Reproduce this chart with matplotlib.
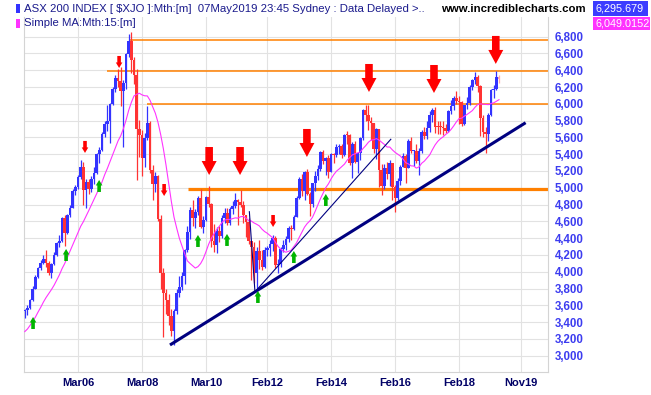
import numpy as np
import matplotlib.pyplot as plt
import matplotlib.transforms as mtransforms
from matplotlib.patches import Polygon, Rectangle

# ASX 200 monthly bars, Jul 2004 .. May 2019 (open = previous close)
ma_seed = [3040, 3110, 3000, 3080, 3180, 3140, 3260, 3230, 3300, 3290,
           3380, 3420, 3430, 3420, 3530]  # Apr 2003 .. Jun 2004, for the MA

closes = [
    3540, 3571, 3665, 3800, 3934, 4050,
    4107, 4157, 4110, 3980, 4098, 4203, 4341, 4370, 4641, 4463, 4678, 4763,
    4962, 5004, 5123, 5242, 4976, 5074, 4983, 5103, 5180, 5407, 5448, 5644,
    5762, 5797, 5995, 6181, 6304, 6274, 6153, 6248, 6589, 6754, 6517, 6340,
    5697, 5632, 5355, 5598, 5773, 5215, 5050, 5135, 4631, 3983, 3744, 3659,
    3478, 3296, 3532, 3745, 3818, 3948, 4255, 4468, 4741, 4645, 4715, 4883,
    4534, 4617, 4893, 4807, 4367, 4324, 4484, 4420, 4636, 4695, 4584, 4745,
    4781, 4856, 4829, 4790, 4673, 4596, 4362, 4296, 3985, 4242, 4134, 4057,
    4257, 4283, 4335, 4397, 4075, 4095, 4268, 4317, 4387, 4517, 4506, 4649,
    4879, 5104, 4967, 5191, 4926, 4803, 5052, 5135, 5218, 5425, 5321, 5352,
    5190, 5404, 5395, 5489, 5492, 5396, 5633, 5625, 5292, 5526, 5313, 5411,
    5588, 5929, 5861, 5790, 5777, 5459, 5699, 5207, 5021, 5239, 5167, 5296,
    5005, 4880, 5082, 5252, 5378, 5233, 5562, 5433, 5436, 5317, 5440, 5666,
    5621, 5712, 5864, 5924, 5725, 5721, 5720, 5715, 5682, 5909, 5970, 6066,
    6037, 6016, 5759, 5982, 6012, 6195, 6281, 6320, 6208, 5830, 5667, 5646,
    5865, 6169, 6181, 6325, 6295.679,
]
highs = [
    3560, 3600, 3680, 3830, 3960, 4060,
    4140, 4200, 4260, 4130, 4110, 4230, 4360, 4440, 4650, 4680, 4690, 4790,
    4990, 5030, 5150, 5330, 5310, 5100, 5110, 5140, 5250, 5420, 5480, 5660,
    5800, 5980, 6010, 6200, 6340, 6410, 6440, 6280, 6600, 6830, 6851, 6560,
    6420, 5810, 5690, 5650, 5970, 5790, 5270, 5190, 5150, 4680, 4040, 3790,
    3740, 3560, 3560, 3800, 3950, 4000, 4270, 4540, 4770, 4850, 4750, 4900,
    4980, 4660, 4900, 5020, 4820, 4570, 4530, 4550, 4680, 4760, 4760, 4770,
    4840, 4940, 4870, 4970, 4840, 4680, 4640, 4370, 4360, 4300, 4380, 4260,
    4290, 4310, 4380, 4440, 4420, 4150, 4290, 4380, 4420, 4540, 4560, 4670,
    4900, 5130, 5160, 5200, 5220, 4950, 5060, 5200, 5270, 5440, 5450, 5370,
    5390, 5420, 5420, 5520, 5520, 5520, 5640, 5680, 5640, 5540, 5560, 5420,
    5600, 5940, 5990, 5990, 5840, 5770, 5710, 5700, 5280, 5280, 5310, 5330,
    5280, 5030, 5120, 5270, 5410, 5400, 5580, 5610, 5450, 5520, 5470, 5690,
    5720, 5800, 5910, 5950, 5960, 5800, 5800, 5790, 5760, 5930, 6050, 6090,
    6150, 6090, 6030, 5990, 6080, 6230, 6300, 6374, 6340, 6220, 5870, 5720,
    5890, 6180, 6220, 6390, 6340,
]
lows = [
    3450, 3480, 3560, 3650, 3790, 3920,
    4020, 4090, 4060, 3960, 3920, 4080, 4190, 4300, 4360, 4310, 4450, 4650,
    4760, 4920, 4980, 5100, 4790, 4760, 4930, 4950, 5050, 5170, 5300, 5440,
    5600, 5680, 5530, 5990, 6140, 6200, 5970, 5490, 6180, 6560, 6370, 6240,
    5090, 5370, 5140, 5250, 5570, 5180, 4850, 4950, 4600, 3800, 3220, 3500,
    3360, 3240, 3130, 3500, 3700, 3780, 3860, 4230, 4390, 4550, 4520, 4670,
    4520, 4460, 4610, 4770, 4290, 4240, 4220, 4360, 4400, 4580, 4560, 4560,
    4690, 4760, 4560, 4770, 4580, 4410, 4330, 3900, 3870, 3760, 4030, 4020,
    4040, 4190, 4190, 4250, 4040, 3980, 4060, 4230, 4260, 4350, 4380, 4500,
    4650, 4870, 4900, 4860, 4910, 4660, 4770, 4960, 5090, 5200, 5280, 5150,
    5120, 5190, 5300, 5370, 5400, 5360, 5380, 5520, 5270, 5120, 5290, 5180,
    5330, 5570, 5800, 5690, 5570, 5420, 5340, 5010, 4920, 4980, 5110, 5020,
    4850, 4710, 4860, 5030, 5250, 5060, 5230, 5420, 5260, 5290, 5150, 5420,
    5580, 5580, 5670, 5780, 5650, 5640, 5640, 5630, 5650, 5660, 5880, 5930,
    6000, 5760, 5730, 5750, 5940, 5980, 6170, 6240, 6140, 5620, 5600, 5410,
    5560, 5850, 6070, 6160, 6250,
]
opens = [ma_seed[-1]] + closes[:-1]

tick_pos = [20, 44, 68, 91, 115, 139, 163, 186.3]
tick_lab = ["Mar06", "Mar08", "Mar10", "Feb12", "Feb14", "Feb16", "Feb18", "Nov19"]
price_ticks = list(range(3000, 6801, 200))

# hand-drawn annotations: (month index, price)
res_levels = [6757, 6385, 5995, 4980]
res_start = [39.2, 30.9, 45.9, 61.3]
res_width = [1.1, 1.1, 1.1, 2.3]
trend_thick = ([54.5, 188.0], [3128, 5775])
trend_thin = ([84.3, 86.4, 137.4], [4715, 3760, 5578])
big_down = [(69.2, 5152), (80.8, 5152), (105.9, 5367), (129.2, 6141),
            (153.6, 6129), (176.8, 6475)]
small_down = [(22.6, 5415), (35.4, 6427), (52.3, 4902), (93.2, 4533)]
small_up = [(3.1, 3461), (15.5, 4271), (27.9, 5093), (65.0, 4438),
            (75.9, 4450), (87.5, 3771), (101.0, 4247), (113.0, 4926)]

W, H = 651, 395
plt.rcParams['font.family'] = ['Liberation Sans', 'DejaVu Sans']
fig = plt.figure(figsize=(W / 100, H / 100), dpi=100)
ax = fig.add_axes([24 / W, 23 / H, 524 / W, 355 / H])

n = len(closes)
x = np.arange(n)
o = np.array(opens, float)
c = np.array(closes, float)
up = c >= o
cols = np.where(up, "#3333ff", "#ff3333").astype(object)
cols[-1] = "#ffaaaa"

ax.vlines(x, lows, highs, colors=list(cols), linewidth=0.9, zorder=3)
body_lo = np.minimum(o, c)
body_h = np.maximum(np.abs(c - o), 12)
ax.bar(x, body_h, bottom=body_lo, width=1.0, color=list(cols), linewidth=0,
       zorder=3, antialiased=False)

# 15 month simple moving average
full = np.array(ma_seed + closes, float)
ma = np.convolve(full, np.ones(15) / 15, mode="valid")[1:]
ax.plot(x, ma, color="#ff33ff", linewidth=0.8, zorder=4)

x_right = 196.4
for lvl, s, lw in zip(res_levels, res_start, res_width):
    ax.hlines(lvl, s, x_right, color="#ff8000", linewidth=lw, zorder=2)

ax.plot(*trend_thick, color="#000080", linewidth=2.2, zorder=5, solid_capstyle="butt")
ax.plot(*trend_thin, color="#000080", linewidth=0.8, zorder=5)


def arrow(xi, yv, verts, color):
    tr = mtransforms.ScaledTranslation(xi, yv, ax.transData)
    ax.add_patch(Polygon(verts, closed=True, facecolor=color, edgecolor="none",
                         transform=tr, zorder=6, clip_on=False))


big = [(0, 0), (7.5, 14), (3.8, 14), (3.8, 28), (-3.8, 28), (-3.8, 14), (-7.5, 14)]
sm_dn = [(0, 0), (3.3, 5.5), (1.8, 5.5), (1.8, 12), (-1.8, 12), (-1.8, 5.5), (-3.3, 5.5)]
sm_up = [(vx, -vy) for vx, vy in sm_dn]
for xi, yv in big_down:
    arrow(xi, yv, big, "#ff0000")
for xi, yv in small_down:
    arrow(xi, yv, sm_dn, "#ff0000")
for xi, yv in small_up:
    arrow(xi, yv, sm_up, "#00b400")

ax.set_xlim(-0.3, x_right)
ax.set_ylim(2806, 7034)
ax.set_xticks(tick_pos)
ax.set_xticklabels(tick_lab, fontsize=8, fontweight="bold", color="#000066")
ax.yaxis.tick_right()
ax.set_yticks(price_ticks)
ax.set_yticklabels([f"{v:,}" for v in price_ticks], fontsize=8.3,
                   fontweight="bold", color="#3c3cf0")
ax.tick_params(axis="both", length=0)
ax.tick_params(axis="y", pad=5)
ax.tick_params(axis="x", pad=4)
ax.grid(True, color="#e2e2e2", linewidth=0.8, zorder=0)
ax.set_axisbelow(True)
for side in ["left", "bottom", "right"]:
    ax.spines[side].set_color("#d4d4d4")
    ax.spines[side].set_linewidth(0.8)
ax.spines["top"].set_visible(False)


# header
def px(xp, yp):
    return xp / W, 1 - yp / H


fig.patches.append(Rectangle(px(16, 13), 4 / W, 9 / H, transform=fig.transFigure,
                             facecolor="#3333ff", edgecolor="none"))
fig.patches.append(Rectangle(px(16, 28), 4 / W, 9 / H, transform=fig.transFigure,
                             facecolor="#ff33ff", edgecolor="none"))
fig.text(*px(24, 8.5), r"ASX 200 INDEX [ \$XJO ]:Mth:[m]  07May2019 23:45 Sydney : Data Delayed >..",
         fontsize=8.2, color="#1a1a8c", va="center", ha="left")
fig.text(*px(24, 23), "Simple MA:Mth:15:[m]", fontsize=8.2, color="#1a1a8c",
         va="center", ha="left")
fig.text(*px(441, 8.5), "www.incrediblecharts.com", fontsize=8.2, fontweight="bold",
         color="black", va="center", ha="left")
fig.patches.append(Rectangle(px(593, 15.5), 55 / W, 14.5 / H, transform=fig.transFigure,
                             facecolor="#3c3cff", edgecolor="none"))
fig.patches.append(Rectangle(px(593, 29.5), 57 / W, 13 / H, transform=fig.transFigure,
                             facecolor="#ff33ff", edgecolor="none"))
fig.text(*px(595, 8.5), "6,295.679", fontsize=7.8, color="white", va="center", ha="left")
fig.text(*px(595, 23), "6,049.0152", fontsize=7.8, color="white", va="center", ha="left")

fig.savefig("out.png", dpi=100)
